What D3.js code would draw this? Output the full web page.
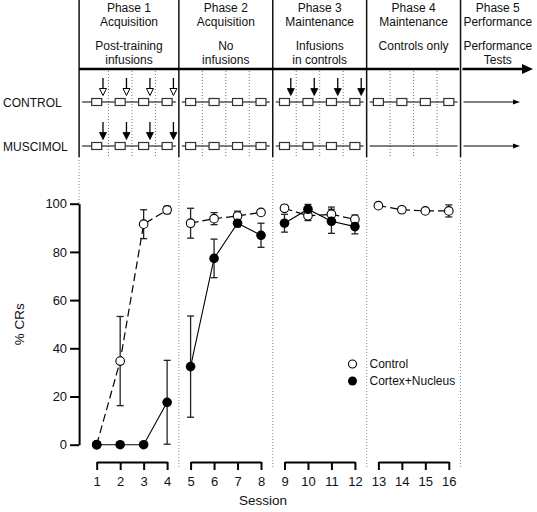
<!DOCTYPE html>
<html><head><meta charset="utf-8">
<script src="https://cdn.jsdelivr.net/npm/d3@7"></script>
<style>body{margin:0;background:#fff}svg{display:block;font-family:"Liberation Sans",Arial,sans-serif}</style>
</head><body><svg id="c" width="537" height="512"></svg>
<script>
// ---- data ----
const sessions = [1,2,3,4,5,6,7,8,9,10,11,12,13,14,15,16];
const phaseSessions = [[1,2,3,4],[5,6,7,8],[9,10,11,12],[13,14,15,16]];
const phaseTitles = ["Phase 1","Phase 2","Phase 3","Phase 4","Phase 5"];
const phaseNames = ["Acquisition","Acquisition","Maintenance","Maintenance","Performance"];
const phaseNotes = [["Post-training","infusions"],["No","infusions"],["Infusions","in controls"],["Controls only"],["Performance","Tests"]];
const rowLabels = ["CONTROL","MUSCIMOL"];
// infusion arrows per phase: null = none, "open" / "filled"
const controlInfusion = ["open", null, "filled", null];
const muscimolInfusion = ["filled", null, null, null];
const muscimolTrained = [true, true, true, false];
const controlMean = [0, 34.7, 91.5, 97.4, 91.9, 93.8, 94.9, 96.4, 98.1, 95.0, 95.6, 93.5, 99.2, 97.5, 97.0, 97.0];
const controlErr  = [0, 18.5, 6.0, 1.5, 6.2, 2.5, 2.0, 1.0, 1.2, 2.0, 3.0, 1.8, 0.8, 0.8, 1.0, 2.5];
const cortexSessions = [1,2,3,4,5,6,7,8,9,10,11,12];
const cortexMean = [0, 0, 0, 17.6, 32.4, 77.3, 91.9, 86.9, 91.9, 97.7, 92.7, 90.5];
const cortexErr  = [0, 0, 0, 17.4, 21.0, 8.0, 1.5, 5.0, 3.7, 2.0, 5.0, 3.0];
const yTicks = [0,20,40,60,80,100];
const seriesNames = ["Control","Cortex+Nucleus"];

// ---- scales ----
const svg = d3.select("#c");
const x = d3.scaleLinear().domain([1,16]).range([96.7,448.8]);
const y = d3.scaleLinear().domain([0,100]).range([444.7,203.7]);
const divs = [0.25,4.5,8.5,12.5,16.5].map(x);
const rowY = [102,146];
const topLineY = 69;

// ---- header ----
const hdr = svg.append("g").attr("font-size",12).attr("fill","#111");
phaseTitles.forEach((t,i)=>{
  const cx = i<4 ? (divs[i]+divs[i+1])/2 : (divs[4]+537)/2 - 1;
  hdr.append("text").attr("x",cx).attr("y",12).attr("text-anchor","middle").text(t);
  hdr.append("text").attr("x",cx).attr("y",25.5).attr("text-anchor","middle").text(phaseNames[i]);
  phaseNotes[i].forEach((n,j)=>hdr.append("text").attr("x",cx).attr("y",50+j*14).attr("text-anchor","middle").text(n));
});
// solid verticals
divs.forEach(d=>svg.append("line").attr("x1",d).attr("x2",d).attr("y1",0).attr("y2",157).attr("stroke","#111").attr("stroke-width",1.5));
// thick timeline
svg.append("line").attr("x1",divs[0]).attr("x2",divs[4]-1.5).attr("y1",topLineY).attr("y2",topLineY).attr("stroke","#000").attr("stroke-width",2.5);
svg.append("line").attr("x1",divs[4]+2).attr("x2",524).attr("y1",topLineY).attr("y2",topLineY).attr("stroke","#000").attr("stroke-width",2.5);
svg.append("path").attr("d",`M522,${topLineY-5}L533,${topLineY}L522,${topLineY+5}Z`).attr("fill","#000");
// intra-phase dotted lines
phaseSessions.forEach(ps=>ps.slice(0,3).forEach(s=>{
  svg.append("line").attr("x1",x(s+0.5)).attr("x2",x(s+0.5)).attr("y1",topLineY+2).attr("y2",157)
    .attr("stroke","#777").attr("stroke-width",1).attr("stroke-dasharray","1,2");
}));
// row labels
rowLabels.forEach((l,i)=>svg.append("text").attr("x",3).attr("y",rowY[i]+4.5).attr("font-size",12).attr("fill","#111").text(l));
// rows
function arrow(cx, yTop, yTip, kind){
  svg.append("line").attr("x1",cx).attr("x2",cx).attr("y1",yTop).attr("y2",yTip-6).attr("stroke","#000").attr("stroke-width",1.3);
  svg.append("path").attr("d",`M${cx-3.5},${yTip-7}L${cx+3.5},${yTip-7}L${cx},${yTip}Z`)
    .attr("fill",kind==="open"?"#fff":"#000").attr("stroke","#000").attr("stroke-width",kind==="open"?1:0.8);
}
[0,1].forEach(r=>{
  const ry = rowY[r];
  phaseSessions.forEach((ps,p)=>{
    svg.append("line").attr("x1",divs[p]+3).attr("x2",divs[p+1]-3).attr("y1",ry).attr("y2",ry).attr("stroke","#000").attr("stroke-width",1);
    const boxes = r===0 ? true : muscimolTrained[p];
    if(boxes) ps.forEach(s=>svg.append("rect").attr("x",x(s)-5).attr("y",ry-3.5).attr("width",10).attr("height",7)
      .attr("fill","#fff").attr("stroke","#333").attr("stroke-width",1.2));
    const inf = r===0 ? controlInfusion[p] : muscimolInfusion[p];
    if(inf) ps.forEach(s=>arrow(x(s)+6.3, ry-24, ry-6.5, inf));
  });
  // phase 5 arrow
  svg.append("line").attr("x1",divs[4]+3).attr("x2",515).attr("y1",ry).attr("y2",ry).attr("stroke","#000").attr("stroke-width",1);
  svg.append("path").attr("d",`M513,${ry-2.5}L520,${ry}L513,${ry+2.5}Z`).attr("fill","#000");
});

// ---- plot dividers (dotted) ----
divs.forEach((d,i)=>svg.append("line").attr("x1",d).attr("x2",d).attr("y1",157).attr("y2",i===0?y(100):467)
  .attr("stroke","#888").attr("stroke-width",1).attr("stroke-dasharray","1,2"));

// ---- y axis ----
const yAxis = svg.append("g").attr("transform",`translate(${divs[0]},0)`)
  .call(d3.axisLeft(y).tickValues(yTicks).tickSize(9).tickPadding(3).tickSizeOuter(0));
yAxis.select(".domain").attr("stroke","#000").attr("stroke-width",2);
yAxis.selectAll(".tick line").attr("stroke","#000").attr("stroke-width",2);
yAxis.selectAll("text").attr("font-size",13).attr("fill","#111").attr("font-family","Liberation Sans,Arial,sans-serif");
svg.append("text").attr("transform",`translate(24,${y(50)}) rotate(-90)`).attr("text-anchor","middle")
  .attr("font-size",13.5).attr("fill","#111").text("% CRs");

// ---- session axis brackets ----
phaseSessions.forEach(ps=>{
  const xs = d3.scaleLinear().domain([ps[0],ps[3]]).range([x(ps[0]),x(ps[3])]);
  const g = svg.append("g").attr("transform","translate(0,462)")
    .call(d3.axisBottom(xs).tickValues(ps).tickFormat(d3.format("d")).tickSize(8).tickSizeOuter(0).tickPadding(7));
  g.select(".domain").attr("stroke","#000").attr("stroke-width",2);
  g.selectAll(".tick line").attr("stroke","#000").attr("stroke-width",2);
  g.selectAll("text").attr("font-size",13).attr("fill","#111").attr("font-family","Liberation Sans,Arial,sans-serif");
});
svg.append("text").attr("x",263).attr("y",505).attr("text-anchor","middle").attr("font-size",13.5).attr("fill","#111").text("Session");

// ---- series ----
const ctrl = sessions.map((s,i)=>({s, m:controlMean[i], e:controlErr[i]}));
const ctx = cortexSessions.map((s,i)=>({s, m:cortexMean[i], e:cortexErr[i]}));
const line = d3.line().x(d=>x(d.s)).y(d=>y(d.m));
function inPhase(data, ps){ return data.filter(d=>ps.includes(d.s)); }
phaseSessions.forEach(ps=>{
  const c1 = inPhase(ctrl,ps), c2 = inPhase(ctx,ps);
  if(c2.length) svg.append("path").attr("d",line(c2)).attr("fill","none").attr("stroke","#000").attr("stroke-width",1.1);
  if(c1.length) svg.append("path").attr("d",line(c1)).attr("fill","none").attr("stroke","#000").attr("stroke-width",1.2).attr("stroke-dasharray","8,4");
});
function errBars(data){
  data.filter(d=>d.e>0).forEach(d=>{
    const g = svg.append("g").attr("stroke","#222").attr("stroke-width",1.3);
    g.append("line").attr("x1",x(d.s)).attr("x2",x(d.s)).attr("y1",y(d.m-d.e)).attr("y2",y(d.m+d.e));
    g.append("line").attr("x1",x(d.s)-3.5).attr("x2",x(d.s)+3.5).attr("y1",y(d.m-d.e)).attr("y2",y(d.m-d.e));
    g.append("line").attr("x1",x(d.s)-3.5).attr("x2",x(d.s)+3.5).attr("y1",y(d.m+d.e)).attr("y2",y(d.m+d.e));
  });
}
errBars(ctrl); errBars(ctx);
svg.selectAll(".ctrlpt").data(ctrl).join("circle").attr("cx",d=>x(d.s)).attr("cy",d=>y(d.m)).attr("r",4.3)
  .attr("fill","#fff").attr("stroke","#000").attr("stroke-width",1.1);
svg.selectAll(".ctxpt").data(ctx).join("circle").attr("cx",d=>x(d.s)).attr("cy",d=>y(d.m)).attr("r",4.8)
  .attr("fill","#000");

// ---- legend ----
svg.append("circle").attr("cx",352.5).attr("cy",364).attr("r",4).attr("fill","#fff").attr("stroke","#000").attr("stroke-width",1.1);
svg.append("circle").attr("cx",352.5).attr("cy",381).attr("r",4.5).attr("fill","#000");
seriesNames.forEach((n,i)=>svg.append("text").attr("x",369.5).attr("y",368+i*17).attr("font-size",12).attr("fill","#111").text(n));
</script></body></html>
